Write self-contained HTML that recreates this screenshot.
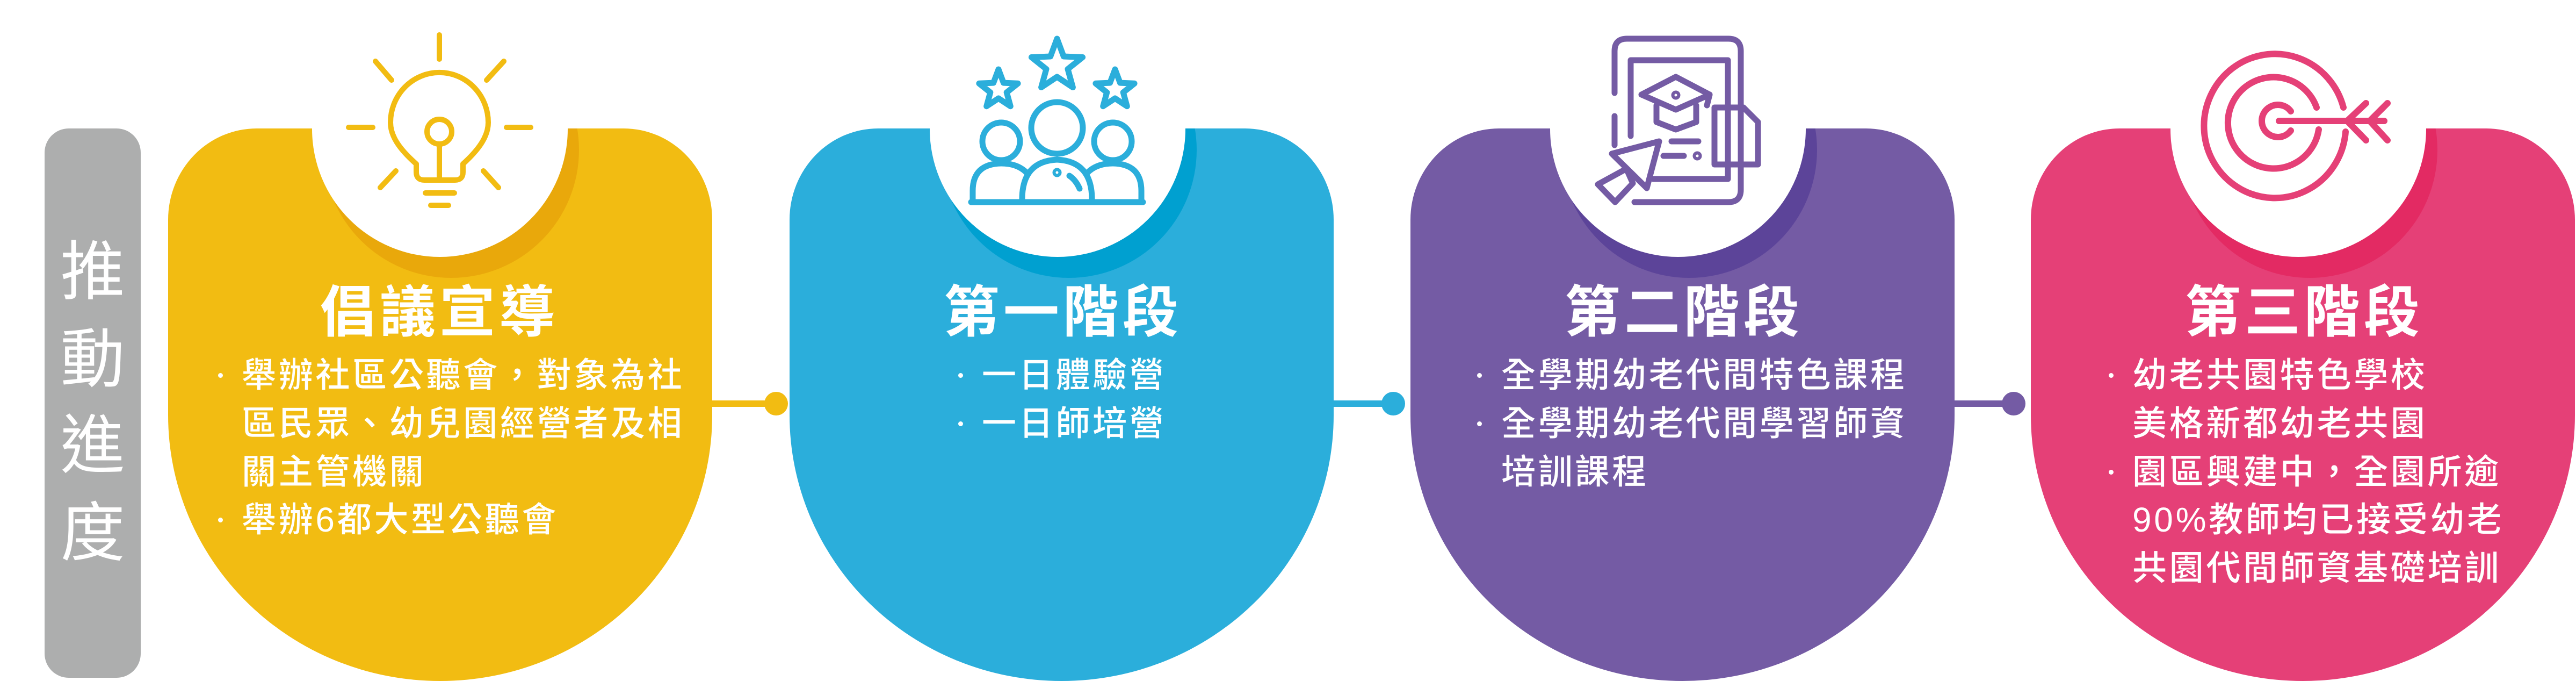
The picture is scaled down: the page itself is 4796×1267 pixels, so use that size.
<!DOCTYPE html>
<html><head><meta charset="utf-8">
<style>
html,body{margin:0;padding:0;background:#fff;}
body{width:4796px;height:1267px;position:relative;overflow:hidden;font-family:"Liberation Sans","Noto Sans CJK TC",sans-serif;}
.card{position:absolute;top:239px;width:1013px;height:1028px;overflow:hidden;border-radius:165px 165px 507px 507px / 170px 170px 495px 495px;}
.sh{position:absolute;width:476px;height:476px;border-radius:50%;left:283px;top:-198px;}
.wh{position:absolute;width:476px;height:476px;border-radius:50%;background:#fff;left:262px;top:-237px;}
.title{position:absolute;top:520px;width:600px;text-align:center;color:#fff;font-weight:bold;font-size:104px;line-height:124px;letter-spacing:7px;font-family:"Liberation Sans","Noto Sans CJK TC",sans-serif;}
.ln{position:absolute;color:#fff;font-size:64px;line-height:90px;height:90px;white-space:nowrap;letter-spacing:4.7px;font-weight:500;}
.b{position:absolute;width:9px;height:9px;border-radius:50%;background:#fff;}
.conn{position:absolute;height:12px;top:745px;}
.dot{position:absolute;width:44px;height:44px;border-radius:50%;top:729px;}
.gray{position:absolute;left:83px;top:239px;width:179px;height:1022px;border-radius:45px;background:#ADAEAE;}
.gc{position:absolute;left:83px;width:179px;text-align:center;color:#fff;font-size:120px;line-height:140px;font-family:"Liberation Sans","Noto Sans CJK TC",sans-serif;}
</style></head><body>

<div class="gray"></div>
<div class="gc" style="top:436px">推</div>
<div class="gc" style="top:599px">動</div>
<div class="gc" style="top:759px">進</div>
<div class="gc" style="top:922px">度</div>

<div class="conn" style="left:1320px;width:120px;background:#F2BC12"></div>
<div class="dot" style="left:1423px;background:#F2BC12"></div>
<div class="conn" style="left:2478px;width:110px;background:#2BAEDB"></div>
<div class="dot" style="left:2572px;background:#2BAEDB"></div>
<div class="conn" style="left:3634px;width:110px;background:#745BA4"></div>
<div class="dot" style="left:3727px;background:#745BA4"></div>

<div class="card" style="left:313px;background:#F2BC12"><div class="sh" style="background:#E9A80B;left:289px"></div><div class="wh" style="left:268px"></div></div>
<div class="card" style="left:1470px;background:#2BAEDB"><div class="sh" style="background:#00A0D0;left:282px"></div><div class="wh" style="left:261px"></div></div>
<div class="card" style="left:2626px;background:#745BA4"><div class="sh" style="background:#5C4499;left:281px"></div><div class="wh" style="left:260px"></div></div>
<div class="card" style="left:3781px;background:#E54077"><div class="sh" style="background:#E32A63;left:281px"></div><div class="wh" style="left:260px"></div></div>

<svg style="position:absolute;left:0;top:0" width="4796" height="1267" viewBox="0 0 4796 1267" fill="none" stroke-linecap="round" stroke-linejoin="round">
 <g stroke="#F2BC12" stroke-width="10">
  <line x1="818" y1="65" x2="818" y2="110"/>
  <line x1="699" y1="114" x2="729" y2="149"/>
  <line x1="938" y1="114" x2="906" y2="149"/>
  <line x1="649" y1="237" x2="694" y2="237"/>
  <line x1="943" y1="237" x2="988" y2="237"/>
  <line x1="737" y1="318" x2="708" y2="349"/>
  <line x1="900" y1="318" x2="928" y2="349"/>
  <path d="M775 305 C742 276 727 252 727 228 A91 93 0 1 1 909 228 C909 252 894 276 862 305 L862 320 Q862 335 847 335 L790 335 Q775 335 775 320 Z"/>
  <circle cx="818" cy="245" r="23"/>
  <line x1="818" y1="268" x2="818" y2="332"/>
  <line x1="792" y1="359" x2="846" y2="359"/>
  <line x1="802" y1="382" x2="835" y2="382"/>
 </g>
 <g stroke="#2BAEDB" stroke-width="11">
  <polygon points="1968,72 1980.3,105 2015.6,106.5 1988,128.5 1997.4,162.5 1968,143 1938.6,162.5 1948,128.5 1920.4,106.5 1955.7,105"/>
  <polygon points="1859,129 1868.4,154.1 1895.1,155.3 1874.2,171.9 1881.3,197.7 1859,183 1836.7,197.7 1843.8,171.9 1822.9,155.3 1849.6,154.1"/>
  <polygon transform="translate(217,0)" points="1859,129 1868.4,154.1 1895.1,155.3 1874.2,171.9 1881.3,197.7 1859,183 1836.7,197.7 1843.8,171.9 1822.9,155.3 1849.6,154.1"/>
  <circle cx="1968" cy="238" r="48"/>
  <circle cx="1864" cy="263" r="35"/>
  <circle cx="2072" cy="263" r="35"/>
  <path d="M1903 371 Q1903 300 1968 297 Q2033 300 2033 371"/>
  <path d="M1811 371 L1811 355 Q1811 305 1864 304 Q1895 304 1912 322"/>
  <path d="M2125 371 L2125 355 Q2125 305 2072 304 Q2041 304 2024 322"/>
  <line x1="1808" y1="376" x2="2128" y2="376"/>
  <circle cx="1968" cy="321" r="3"/>
  <path d="M1991 327 Q2003 335 2010 351"/>
 </g>
 <g stroke="#745BA4" stroke-width="11">
  <path d="M3043 376 L3218 376 Q3241 376 3241 353 L3241 95 Q3241 72 3218 72 L3029 72 Q3006 72 3006 95 L3006 173"/>
  <path d="M3006 216 L3006 270"/>
  <path d="M3036 253 L3036 112 L3217 112 L3217 333 L3078 333"/>
  <polygon points="3056,176 3120,143 3183,176 3120,204"/>
  <path d="M3084 196 L3084 227 L3120 241 L3158 227 L3158 196"/>
  <circle cx="3120" cy="177" r="3"/>
  <path d="M3183 176 L3178 196"/>
  <path d="M3192 306 L3192 200 L3246 200 L3273 227 L3273 306 Z"/>
  <line x1="3112" y1="263" x2="3162" y2="263"/>
  <line x1="3097" y1="290" x2="3135" y2="290"/>
  <circle cx="3160" cy="290" r="3"/>
  <polygon points="3001,286 3089,263 3066,350"/>
  <polygon points="3028,314 2975,343 3007,376 3040,341"/>
 </g>
 <g stroke="#E54077" stroke-width="12">
  <path d="M4363 200 A132 134 0 1 0 4367 245"/>
  <path d="M4313 200 A85 85 0 1 0 4317 241"/>
  <path d="M4265 207 A30 30 0 1 0 4265 243"/>
  <line x1="4243" y1="225" x2="4439" y2="225"/>
  <path d="M4405 192 L4370 225 L4405 261"/>
  <path d="M4445 192 L4412 225 L4445 261"/>
 </g>
</svg>

<div class="title" style="left:518px">倡議宣導</div>
<div class="title" style="left:1679px">第一階段</div>
<div class="title" style="left:2835px">第二階段</div>
<div class="title" style="left:3990px">第三階段</div>

<div class="b" style="left:406px;top:694px"></div>
<div class="ln" style="left:450px;top:653px">舉辦社區公聽會，對象為社</div>
<div class="ln" style="left:450px;top:743px">區民眾、幼兒園經營者及相</div>
<div class="ln" style="left:450px;top:833px">關主管機關</div>
<div class="b" style="left:406px;top:963px"></div>
<div class="ln" style="left:450px;top:922px">舉辦6都大型公聽會</div>

<div class="b" style="left:1784px;top:694px"></div>
<div class="ln" style="left:1828px;top:653px">一日體驗營</div>
<div class="b" style="left:1784px;top:784px"></div>
<div class="ln" style="left:1828px;top:743px">一日師培營</div>

<div class="b" style="left:2750px;top:694px"></div>
<div class="ln" style="left:2795px;top:653px">全學期幼老代間特色課程</div>
<div class="b" style="left:2750px;top:784px"></div>
<div class="ln" style="left:2795px;top:743px">全學期幼老代間學習師資</div>
<div class="ln" style="left:2795px;top:833px">培訓課程</div>

<div class="b" style="left:3926px;top:694px"></div>
<div class="ln" style="left:3970px;top:653px">幼老共園特色學校</div>
<div class="ln" style="left:3970px;top:743px">美格新都幼老共園</div>
<div class="b" style="left:3926px;top:874px"></div>
<div class="ln" style="left:3970px;top:833px">園區興建中，全園所逾</div>
<div class="ln" style="left:3970px;top:922px">90%教師均已接受幼老</div>
<div class="ln" style="left:3970px;top:1012px">共園代間師資基礎培訓</div>

</body></html>
